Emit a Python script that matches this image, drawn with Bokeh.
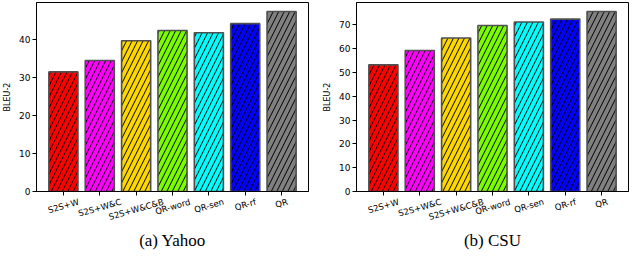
import math
from bokeh.plotting import figure
from bokeh.layouts import row
from bokeh.models import Range1d, ColumnDataSource, FixedTicker, LinearAxis
from bokeh.embed import file_html
from bokeh.resources import INLINE

methods = ["S2S+W", "S2S+W&C", "S2S+W&C&B", "QR-word", "QR-sen", "QR-rf", "QR"]
colors = ["#ff0000", "#ff00ff", "#ffd700", "#7cfc00", "#00ffff", "#0000ff", "#808080"]
yahoo = [31.5, 34.5, 39.7, 42.4, 41.8, 44.2, 47.4]
csu = [53.2, 59.2, 64.5, 69.7, 71.2, 72.4, 75.6]
yahoo_ticks = [0, 10, 20, 30, 40]
csu_ticks = [0, 10, 20, 30, 40, 50, 60, 70]

ANGLE = 0.28
LABEL_PX = 8.5
FRAME_W = 272
PAD = 0.74
# DejaVu Sans advance widths (em units) used to centre the rotated labels on their bars
EM = {"S": 0.635, "2": 0.636, "+": 0.838, "W": 0.989, "&": 0.780, "C": 0.698, "B": 0.686,
      "Q": 0.787, "R": 0.695, "-": 0.361, "w": 0.818, "o": 0.612, "r": 0.411, "d": 0.635,
      "s": 0.521, "e": 0.615, "n": 0.634, "f": 0.352}


def text_w(s):
    return sum(EM.get(c, 0.6) for c in s) * LABEL_PX


def panel(vals, ticks, title, left, right):
    ymax = max(vals) * 1.05
    n = len(methods)
    xs = list(range(n))
    span = (n - 1) + 2 * PAD
    px_per_unit = FRAME_W / span
    src = ColumnDataSource(dict(x=xs, top=vals, color=colors))
    p = figure(
        x_range=Range1d(-PAD, n - 1 + PAD),
        y_range=Range1d(0, ymax),
        frame_width=FRAME_W, frame_height=189,
        output_backend="svg", toolbar_location=None,
        min_border_left=left, min_border_right=right,
        min_border_top=2, min_border_bottom=2,
    )
    p.vbar(x="x", top="top", width=0.8, source=src, fill_color="color",
           line_color="#505050", line_width=1.6,
           hatch_pattern="/", hatch_color="black", hatch_scale=11, hatch_weight=1)
    p.xgrid.visible = False
    p.ygrid.visible = False
    p.outline_line_color = "black"
    p.outline_line_width = 1
    p.xaxis.ticker = FixedTicker(ticks=xs)
    p.yaxis.ticker = FixedTicker(ticks=ticks)
    p.yaxis.minor_tick_line_color = None
    p.xaxis.minor_tick_line_color = None
    for ax in (p.xaxis[0], p.yaxis[0]):
        ax.major_tick_in = 0
        ax.major_tick_out = 4
        ax.axis_line_color = "black"
        ax.major_tick_line_color = "black"
        ax.major_label_text_color = "black"
        ax.major_label_text_font = "DejaVu Sans"
    p.yaxis.major_label_text_font_size = "9px"
    p.xaxis.major_label_text_font_size = "1px"
    p.xaxis.major_label_overrides = {i: "" for i in xs}
    p.xaxis.major_label_standoff = 0
    p.yaxis.major_label_standoff = 2
    p.yaxis.axis_label = "BLEU-2"
    p.yaxis.axis_label_text_font = "DejaVu Sans"
    p.yaxis.axis_label_text_font_size = "8px"
    p.yaxis.axis_label_text_font_style = "normal"
    p.yaxis.axis_label_text_color = "black"
    p.yaxis.axis_label_standoff = 4

    # rotated category labels: right-anchored by Bokeh, so shift each tick so the label centre sits on its bar
    shifted = [i + (text_w(m) / 2) * math.cos(ANGLE) / px_per_unit for i, m in zip(xs, methods)]
    lab = LinearAxis(ticker=FixedTicker(ticks=shifted),
                     major_label_overrides={t: m for t, m in zip(shifted, methods)})
    lab.axis_line_color = None
    lab.major_tick_line_color = None
    lab.minor_tick_line_color = None
    lab.major_tick_out = 0
    lab.major_tick_in = 0
    lab.major_label_standoff = 6
    lab.major_label_orientation = ANGLE
    lab.major_label_text_font = "DejaVu Sans"
    lab.major_label_text_font_size = f"{LABEL_PX}px"
    lab.major_label_text_color = "black"
    lab.axis_label = title
    lab.axis_label_text_font = "Liberation Serif"
    lab.axis_label_text_font_size = "17px"
    lab.axis_label_text_font_style = "normal"
    lab.axis_label_text_color = "black"
    lab.axis_label_standoff = 1
    p.add_layout(lab, "below")
    return p


p1 = panel(yahoo, yahoo_ticks, "(a) Yahoo", 28, 12)
p2 = panel(csu, csu_ticks, "(b) CSU", 34, 2)
layout = row(p1, p2)

open("out.html", "w").write(file_html(layout, INLINE))
